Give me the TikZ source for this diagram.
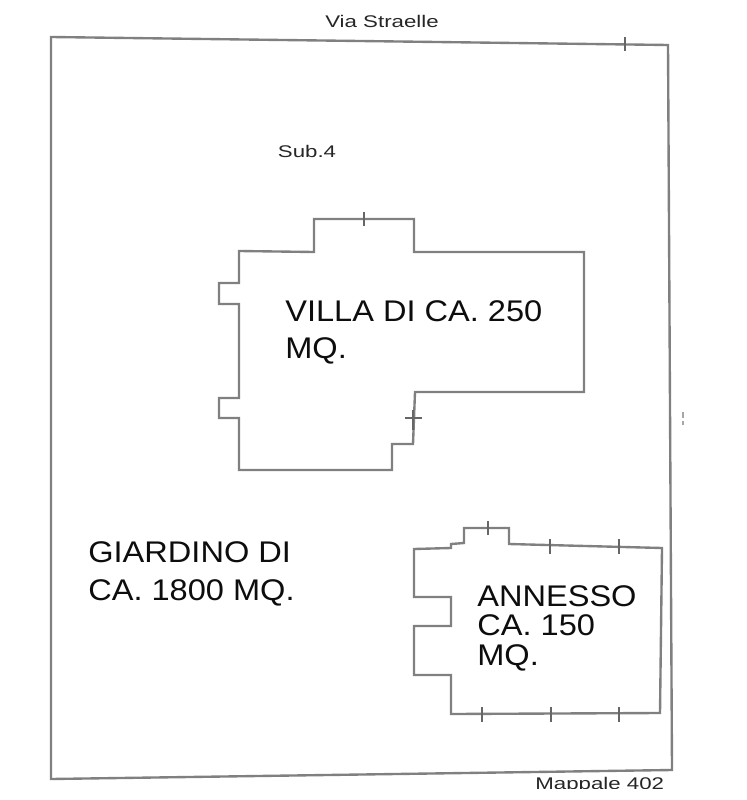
\documentclass[tikz,border=0pt]{standalone}
\usepackage{fontspec}
\setmainfont{Liberation Sans}
\newfontfamily\bigfont[FakeStretch=1.09]{Liberation Sans}
\newfontfamily\smallfont[FakeStretch=1.32]{Liberation Sans}

\tikzset{
  wall/.style={draw=black!50, line width=1.35pt, line join=miter},
  tick/.style={draw=black!60, line width=0.8pt},
  smalllabel/.style={inner sep=0pt, text=black!85, font=\smallfont\fontsize{9.6}{11}\selectfont},
  biglabel/.style={anchor=north west, inner sep=0pt, align=left, text=black!95}
}

\begin{document}
\begin{tikzpicture}[x=0.02cm, y=-0.02cm]
  \useasboundingbox (0,0) rectangle (746,800);

  % lot
  \draw[wall] (51,37)--(668,45)--(672,770)--(51,779)--cycle;
  \draw[tick] (625,37)--(625,51);

  % villa
  \draw[wall] (239,251)--(314,252)--(314,219)--(414,219)--(414,252)--(584,252)
    --(584,392)--(415,392)--(413,444)--(392,444)--(392,470)--(239,470)
    --(239,418)--(219,418)--(219,398)--(239,398)--(239,304)--(219,304)
    --(219,283)--(239,283)--cycle;
  \draw[tick] (364,212)--(364,226);
  \draw[tick] (405,418)--(422,418);
  \draw[tick] (413,410)--(413,430);

  % annesso
  \draw[wall] (414,549)--(451,548)--(451,544)--(464,543)--(464,528)--(509,528)
    --(509,544)--(662,548)--(660,713)--(451,714)--(451,675)--(414,675)
    --(414,626)--(451,626)--(451,597)--(414,597)--cycle;
  \draw[tick] (488,521)--(488,535);
  \foreach \x in {550,619}{
    \draw[tick] (\x,539)--(\x,554);
  }
  \foreach \x in {482,551,619}{
    \draw[tick] (\x,707)--(\x,722);
  }

  % small marks on the right
  \draw[tick, black!35] (683,412)--(683,418);
  \draw[tick, black!35] (683,421)--(683,425);

  \node[smalllabel] (street) at (382,21) {Via Straelle};
  \node[smalllabel] (sub) at (307,151) {Sub.4};
  \begin{scope}
    \clip (520,770) rectangle (680,788);
    \node[smalllabel, anchor=base west] (lot) at (535,789) {Mappale 402};
  \end{scope}

  \node[biglabel, font=\bigfont\fontsize{17}{21}\selectfont] (villa) at (285,300) {VILLA DI CA. 250\\MQ.};
  \node[biglabel, font=\bigfont\fontsize{17}{21.6}\selectfont] (garden) at (88,541) {GIARDINO DI\\CA. 1800 MQ.};
  \node[biglabel, font=\bigfont\fontsize{17}{16.8}\selectfont] (annex) at (477,585) {ANNESSO\\CA. 150\\MQ.};
\end{tikzpicture}
\end{document}
